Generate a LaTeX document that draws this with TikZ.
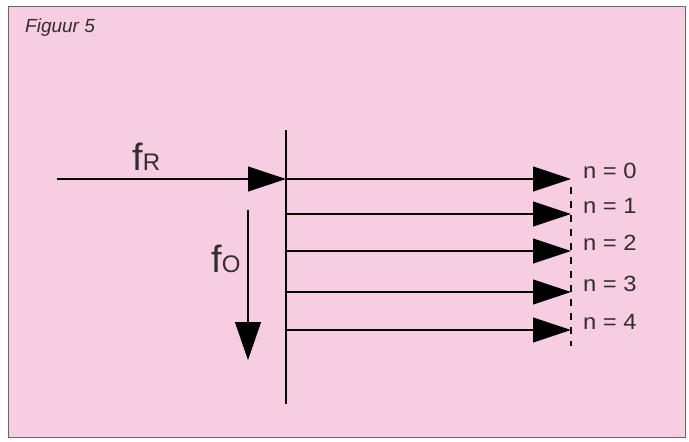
\documentclass[tikz,border=0pt]{standalone}
\usepackage{fontspec}
\setmainfont{Liberation Sans}
\usetikzlibrary{arrows.meta}
\definecolor{bgpink}{RGB}{247,205,225}
\definecolor{framegray}{RGB}{110,100,105}
\definecolor{inkgray}{RGB}{50,45,50}
\tikzset{
  sig/.style={line width=1.1pt, -{Triangle[length=38pt,width=25pt]}},
  lbl/.style={font=\fontsize{22}{24}\selectfont, anchor=base west, inner sep=0pt, text=inkgray},
  freq/.style={inner sep=0pt, anchor=base west, text=inkgray}
}
\begin{document}
\begin{tikzpicture}[x=1pt,y=-1pt]
\useasboundingbox (0,0) rectangle (689,442);
\fill[white] (0,0) rectangle (689,442);
\draw[fill=bgpink, draw=framegray, line width=1pt] (8,6) rectangle (685,437);
\node[anchor=west, inner sep=0pt, font=\fontsize{19}{21}\selectfont\itshape, text=inkgray] (title) at (25,28) {Figuur 5};
% main vertical line
\coordinate (vtop) at (286,130);
\coordinate (vbot) at (286,404);
\draw[line width=1.1pt] (vtop) -- (vbot);
% input arrow
\coordinate (in) at (57,179);
\coordinate (hub0) at (286,179);
\draw[sig] (in) -- (hub0);
\node[freq] (fR) at (132,170) {\fontsize{38}{38}\selectfont f\fontsize{24}{24}\selectfont R};
% fO arrow
\coordinate (ot) at (248,210);
\coordinate (ob) at (248,360);
\draw[sig, -{Triangle[length=38pt,width=26pt]}] (ot) -- (ob);
\node[freq] (fO) at (211,272) {\fontsize{38}{38}\selectfont f\fontsize{24}{24}\selectfont O};
% outputs
\foreach \i/\yy in {0/179,1/214,2/251,3/292,4/330}{
  \coordinate (s\i) at (286,\yy);
  \coordinate (e\i) at (571,\yy);
  \draw[sig] (s\i) -- (e\i);
  \node[lbl] (n\i) at (583,\yy-1) {\scalebox{1.08}[1]{n = \i}};
}
% dashed line
\draw[line width=1.1pt, dash pattern=on 7pt off 7pt] (e0) ++(0,8) coordinate (dtop) -- (571,346) coordinate (dbot);
\end{tikzpicture}
\end{document}
